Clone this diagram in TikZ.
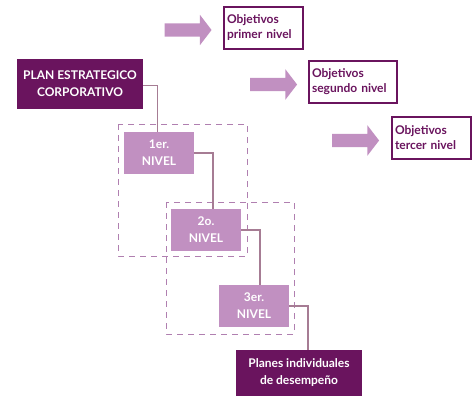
\documentclass[tikz,border=0pt]{standalone}
\usepackage{fontspec}
\setmainfont{Lato}
\usetikzlibrary{positioning,shapes.arrows}
\definecolor{oscuro}{HTML}{6A145E}
\definecolor{claro}{HTML}{C190C1}
\definecolor{enlace}{HTML}{A67C94}
\definecolor{trazo}{HTML}{B07FB0}

\begin{document}
\begin{tikzpicture}[x=1pt,y=-1pt,
  plan/.style={fill=oscuro,text=white,font=\bfseries\fontsize{12}{17}\selectfont,
    align=center,inner sep=0pt},
  nivel/.style={fill=claro,text=white,font=\bfseries\fontsize{12}{17}\selectfont,
    align=center,minimum width=70pt,minimum height=42pt,inner sep=0pt},
  obj/.style={draw=oscuro,line width=1.2pt,fill=white,text=oscuro,
    font=\bfseries\fontsize{12}{15}\selectfont,align=left,inner sep=0pt},
  flecha/.style={single arrow,fill=claro,inner sep=0pt,text height=13pt,text depth=0pt,
    minimum height=47pt,single arrow head extend=8.5pt,single arrow tip angle=105},
  grupo/.style={draw=trazo,line width=1pt,dash pattern=on 6pt off 5pt},
  enlaza/.style={draw=enlace,line width=1.2pt}]
\useasboundingbox (0,0) rectangle (476,396);
% grupos punteados
\draw[grupo] (118,124) rectangle (247,256);
\draw[grupo] (166,202) rectangle (294,334);
% cajas
\node[plan,minimum width=126pt,minimum height=50pt] (plan) at (80,84) {PLAN ESTRATEGICO\\CORPORATIVO};
\node[nivel] (n1) at (159,153) {1er.\\NIVEL};
\node[nivel] (n2) at (206,230) {2o.\\NIVEL};
\node[nivel] (n3) at (254,306) {3er.\\NIVEL};
\node[plan,minimum width=126pt,minimum height=46pt] (planes) at (299,373) {Planes individuales\\de desempeño};
\node[obj,minimum width=79pt,minimum height=42pt,text width=73pt] (o1) at (263.5,28) {Objetivos\\primer nivel};
\node[obj,minimum width=88pt,minimum height=42pt,text width=82pt] (o2) at (353,82) {Objetivos\\segundo nivel};
\node[obj,minimum width=79pt,minimum height=42pt,text width=73pt] (o3) at (431.5,138) {Objetivos\\tercer nivel};
\node[flecha] (f1) at (185.5,30) {};
\node[flecha] (f2) at (271,84.5) {};
\node[flecha] (f3) at (353,140.5) {};
% enlaces
\path[enlaza] ([yshift=-1.5pt]plan.east) -| ([xshift=-1.5pt]n1.north);
\path[enlaza] (n1.east) -| ([xshift=7pt]n2.north);
\path[enlaza] (n2.east) -| ([xshift=6pt]n3.north);
\path[enlaza] (n3.east) -| ([xshift=9pt]planes.north);
\end{tikzpicture}
\end{document}
